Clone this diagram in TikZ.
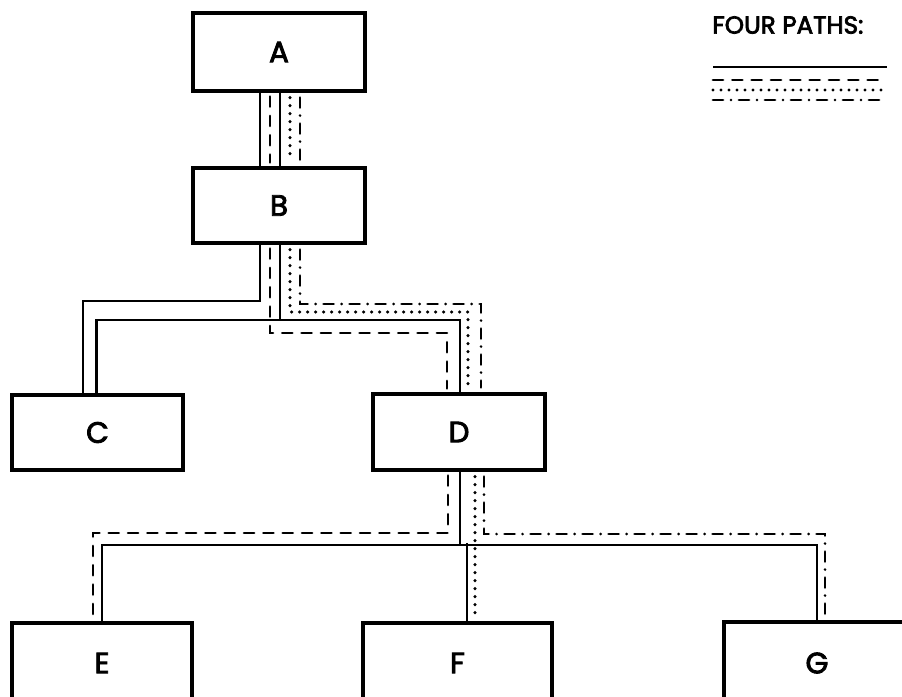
\documentclass[tikz,border=0pt]{standalone}
\usepackage{fontspec}
\setmainfont{Poppins}
\newfontfamily\lblfont{Poppins}[FakeBold=3]
\usetikzlibrary{calc}
\tikzset{
  box/.style={draw, line width=2.4pt, rectangle, inner sep=0pt, font=\fontsize{22}{26}\lblfont},
  tree/.style={line width=2.2pt},
  pathC/.style={line width=2.1pt},
  pathE/.style={line width=2.1pt, dash pattern=on 7.5pt off 7pt, line cap=round},
  pathF/.style={line width=2.6pt, dash pattern=on 0pt off 6pt, line cap=round},
  pathG/.style={line width=2.1pt, dash pattern=on 7.5pt off 6pt on 0pt off 6pt, line cap=round},
}
\begin{document}
\begin{tikzpicture}[x=0.75pt,y=-0.75pt]
\useasboundingbox (0,0) rectangle (902,696);
\clip (0,0) rectangle (902,696);
% boxes
\node[box, minimum width=172*0.75pt, minimum height=78*0.75pt] (A) at (279,52) {A};
\node[box, minimum width=172*0.75pt, minimum height=75*0.75pt] (B) at (279,205.5) {B};
\node[box, minimum width=171*0.75pt, minimum height=75*0.75pt] (C) at (97.5,432.5) {C};
\node[box, minimum width=172*0.75pt, minimum height=76*0.75pt] (D) at (459,432) {D};
\node[box, minimum width=180*0.75pt, minimum height=80*0.75pt] (E) at (102,663) {E};
\node[box, minimum width=189*0.75pt, minimum height=80*0.75pt] (F) at (457.5,663) {F};
\node[box, minimum width=186*0.75pt, minimum height=82*0.75pt] (G) at (817,663) {G};
% junctions of the tree
\coordinate (j1) at (280,320);
\coordinate (j2) at (460,545);
% tree (solid centre lines)
\draw[tree] ($(A.south)+(1,0)$) -- ($(B.north)+(1,0)$);
\draw[tree] ($(B.south)+(1,0)$) -- (j1);
\draw[tree] ($(C.north)+(-1,0)$) |- (j1) -| ($(D.north)+(1,0)$);
\draw[tree] ($(D.south)+(1,0)$) -- (j2);
\draw[tree] (E.north) |- (j2) -| (G.north);
\draw[tree] ($(F.north)+(9.5,0)$) -- ($(F.north)+(9.5,-78)$);
% path to C (solid)
\coordinate (c1) at (260,301);
\draw[pathC] ($(A.south)+(-19,0)$) -- ($(B.north)+(-19,0)$);
\draw[pathC] ($(B.south)+(-19,0)$) -- (c1) -| ($(C.north)+(-14.5,0)$);
% path to E (dashed)
\coordinate (e1) at (270,333);
\coordinate (e2) at (448,533);
\draw[pathE] ($(A.south)+(-9,4)$) -- ($(B.north)+(-9,-4)$);
\draw[pathE] ($(B.south)+(-9,4)$) -- (e1) -| ($(D.north)+(-12,-4)$);
\draw[pathE] ($(D.south)+(-11,4)$) -- (e2) -| ($(E.north)+(-9,-3)$);
% path to F (dotted)
\coordinate (f1) at (290,312);
\draw[pathF] ($(A.south)+(11,5)$) -- ($(B.north)+(11,-5)$);
\draw[pathF] ($(B.south)+(11,5)$) -- (f1) -| ($(D.north)+(9,-5)$);
\draw[pathF] ($(D.south)+(16,5)$) -- ($(F.north)+(17.5,-3)$);
% path to G (dash dot)
\coordinate (g1) at (300,304);
\coordinate (g2) at (484,534);
\draw[pathG] ($(A.south)+(21,5)$) -- ($(B.north)+(21,-5)$);
\draw[pathG] ($(B.south)+(21,5)$) -- (g1) -| ($(D.north)+(22,-5)$);
\draw[pathG] ($(D.south)+(25,5)$) -- (g2) -| ($(G.north)+(8,-3)$);
% legend
\node[anchor=west, inner sep=0pt, font=\fontsize{18.5}{22}\lblfont] (title) at (712,25) {FOUR PATHS:};
\coordinate (l1a) at (713,67);  \coordinate (l1b) at (887,67);
\coordinate (l2a) at (713,80);  \coordinate (l2b) at (887,80);
\coordinate (l3a) at (713,90);  \coordinate (l3b) at (887,90);
\coordinate (l4a) at (713,100); \coordinate (l4b) at (887,100);
\draw[pathC] (l1a) -- (l1b);
\draw[pathE] (l2a) -- (l2b);
\draw[pathF] (l3a) -- (l3b);
\draw[pathG] (l4a) -- (l4b);
\end{tikzpicture}
\end{document}
